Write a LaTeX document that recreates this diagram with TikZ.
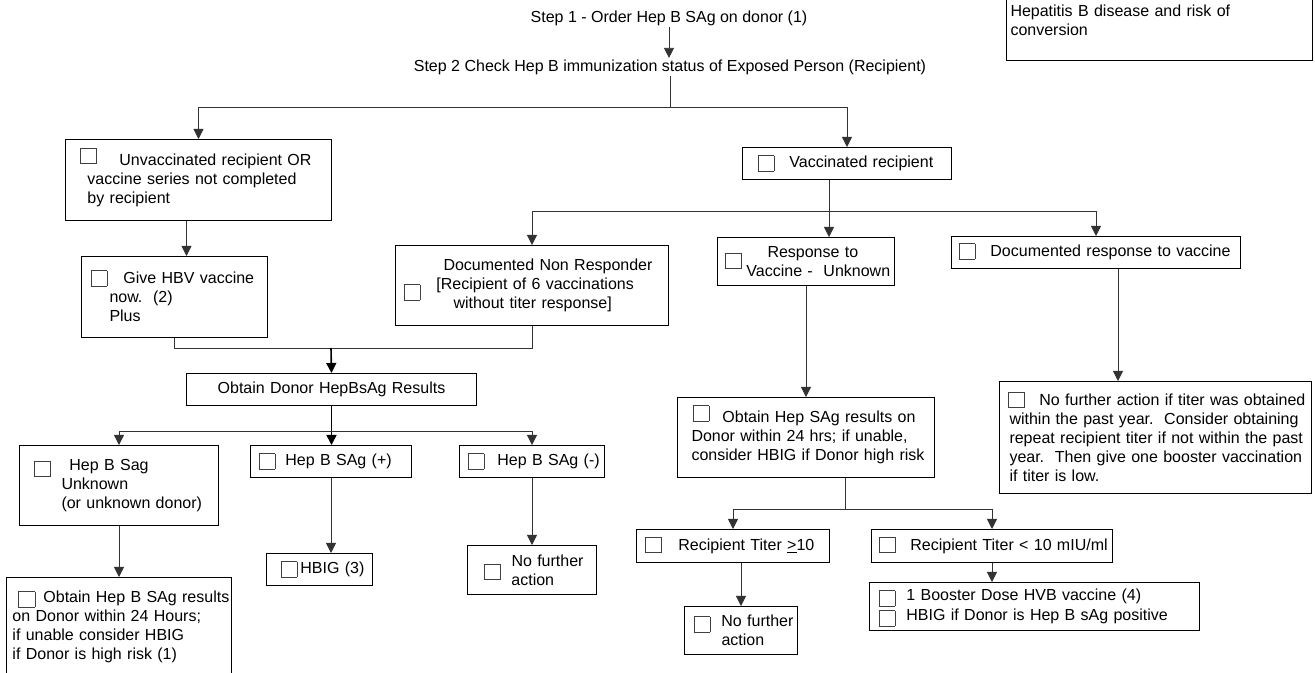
\documentclass[tikz,border=0pt]{standalone}
\usepackage{fontspec}
\setmainfont{Liberation Sans}
\usepackage{tikz}
\usetikzlibrary{arrows.meta,calc}
\newlength\pxu
\setlength\pxu{0.75pt}
\newcommand{\fs}{\fontsize{12pt}{14.25pt}\selectfont\frenchspacing}
\newcommand{\cbx}[1][-2.5pt]{\smash{\raisebox{#1}{{\color{black!75}\fboxsep=0pt\fboxrule=0.6pt\fbox{\rule{0pt}{11pt}\hspace{11.5pt}}}}}}

\begin{document}
\begin{tikzpicture}[x=0.75pt,y=-0.75pt,
		box/.style={draw,line width=0.75pt,anchor=north west,inner sep=0pt,align=left,font=\fs},
		txt/.style={inner sep=1pt,font=\fs},
		ln/.style={line width=0.6pt,draw=black!80},
		e/.style={ln,-{Triangle[length=7.5pt,width=7.5pt]}},
		bold/.style={line width=1.2pt,draw=black}
		]
		\useasboundingbox (0,0) rectangle (1315,673);
		\clip (0,0) rectangle (1315,673);
		% top steps
		\node[txt] (step1) at (669,18) {Step 1 - Order Hep B SAg on donor (1)};
		\node[txt] (step2) at (670,67) {Step 2 Check Hep B immunization status of Exposed Person (Recipient)};
		\node[box,text width=306\pxu,minimum height=80\pxu] (topnote) at (1006,-20) {\hspace*{4\pxu}Hepatitis B disease and risk of\\
			\hspace*{4\pxu}conversion};
		% unvaccinated branch
		\node[box,text width=266\pxu,minimum height=81\pxu] (unvac) at (65,139) {\hspace*{14\pxu}\cbx[1.5pt]\hspace*{23\pxu}Unvaccinated recipient OR\\
			\hspace*{22\pxu}vaccine series not completed\\
			\hspace*{22\pxu}by recipient};
		\node[box,text width=186\pxu,minimum height=81\pxu] (givehbv) at (81,256) {\hspace*{9\pxu}\cbx[-1.5pt]\hspace*{16\pxu}Give HBV vaccine\\
			\hspace*{28\pxu}now.\ \ (2)\\
			\hspace*{28\pxu}Plus};
		% vaccinated branch
		\node[box,text width=209\pxu,minimum height=32\pxu] (vacc) at (742,147) {\hspace*{15\pxu}\cbx[-2.5pt]\hspace*{15\pxu}Vaccinated recipient};
		\node[box,text width=273\pxu,minimum height=80\pxu] (nonresp) at (395,245) {\hspace*{48\pxu}Documented Non Responder\\
			\hspace*{8\pxu}\cbx[-7.5pt]\hspace*{16\pxu}[Recipient of 6 vaccinations\\
			\hspace*{58\pxu}without titer response]};
		\node[box,text width=177\pxu,minimum height=48\pxu] (resp) at (717,237) {\hspace*{50\pxu}Response to\\
			\hspace*{7\pxu}\cbx[6pt]\hspace*{5\pxu}Vaccine -\ \ Unknown};
		\node[box,text width=289\pxu,minimum height=32\pxu] (docresp) at (951,236) {\hspace*{7\pxu}\cbx[-1.5pt]\hspace*{15\pxu}Documented response to vaccine};
		% donor results
		\node[box,align=center,text width=290\pxu,minimum height=32\pxu] (obtdonor) at (186,373) {Obtain Donor HepBsAg Results};
		\node[box,text width=199\pxu,minimum height=80\pxu] (unknown) at (19,445) {\hspace*{14\pxu}\cbx[-4.5pt]\hspace*{19\pxu}Hep B Sag\\
			\hspace*{42\pxu}Unknown\\
			\hspace*{42\pxu}(or unknown donor)};
		\node[box,text width=161\pxu,minimum height=32\pxu] (plus) at (250,445) {\hspace*{8\pxu}\cbx[-2.25pt]\hspace*{10\pxu}Hep B SAg (+)};
		\node[box,text width=145\pxu,minimum height=32\pxu] (minus) at (459,445) {\hspace*{8\pxu}\cbx[-2.25pt]\hspace*{13\pxu}Hep B SAg (-)};
		\node[box,text width=225\pxu,minimum height=99\pxu] (obtres) at (6,577) {\hspace*{12\pxu}\cbx[-3pt]\hspace*{8\pxu}Obtain Hep B SAg results\\
			\hspace*{6\pxu}on Donor within 24 Hours;\\
			\hspace*{6\pxu}if unable consider HBIG\\
			\hspace*{6\pxu}if Donor is high risk (1)};
		\node[box,text width=106\pxu,minimum height=32\pxu] (hbig) at (266,553) {\hspace*{14\pxu}\cbx[-2.25pt]\hspace*{3\pxu}HBIG (3)};
		\node[box,text width=129\pxu,minimum height=49\pxu] (noact1) at (467,545) {\hspace*{44\pxu}No further\\
			\hspace*{16\pxu}\cbx[4.5pt]\hspace*{11\pxu}action};
		% unknown response
		\node[box,text width=257\pxu,minimum height=80\pxu] (obthep) at (677,397) {\hspace*{15\pxu}\cbx[1.5pt]\hspace*{13\pxu}Obtain Hep SAg results on\\
			\hspace*{14\pxu}Donor within 24 hrs; if unable,\\
			\hspace*{14\pxu}consider HBIG if Donor high risk};
		\node[box,text width=193\pxu,minimum height=33\pxu] (titerge) at (636,529) {\hspace*{8\pxu}\cbx[-1.5pt]\hspace*{17\pxu}Recipient Titer \underline{>}10};
		\node[box,text width=241\pxu,minimum height=33\pxu] (titerlt) at (871,529) {\hspace*{7\pxu}\cbx[-1.5pt]\hspace*{15\pxu}Recipient Titer < 10 mIU/ml};
		\node[box,text width=113\pxu,minimum height=48\pxu] (noact2) at (684,606) {\hspace*{9\pxu}\cbx[-3.75pt]\hspace*{11\pxu}No further\\
			\hspace*{37\pxu}action};
		\node[box,text width=330\pxu,minimum height=48\pxu] (booster) at (869,582) {\hspace*{9\pxu}\cbx[-3.75pt]\hspace*{11\pxu}1 Booster Dose HVB vaccine (4)\\[0.75pt]
			\hspace*{9\pxu}\cbx[-3.75pt]\hspace*{11\pxu}HBIG if Donor is Hep B sAg positive};
		% documented response
		\node[box,text width=312\pxu,minimum height=112\pxu] (noact3) at (999,381) {\hspace*{8\pxu}\cbx[-1.5pt]\hspace*{15\pxu}No further action if titer was obtained\\
			\hspace*{10\pxu}within the past year.\ \ Consider obtaining\\
			\hspace*{10\pxu}repeat recipient titer if not within the past\\
			\hspace*{10\pxu}year.\ \ Then give one booster vaccination\\
			\hspace*{10\pxu}if titer is low.};
		% junctions
		\coordinate (jtop) at (670,107);
		\coordinate (jvac) at (829,211);
		\coordinate (jmid) at (331,348);
		\coordinate (jdon) at (331,431);
		\coordinate (jhep) at (845,509);
		\coordinate (xr) at (1118,300);
		% connectors
		\draw[e] (step1.south) -- (step1.south |- step2.north);
		\draw[ln] (step2.south) -- (step2.south |- jtop);
		\draw[e] (jtop) -| (unvac.north); \draw[e] (jtop) -| (vacc.north);
		\draw[e] ($(unvac.south)+(-12,0)$) -- ($(givehbv.north)+(12,0)$);
		\draw[ln] (vacc.south -| jvac) -- (jvac);
		\draw[e] (jvac) -| (nonresp.north); \draw[e] (jvac) -- (resp.north -| jvac); \draw[e] (jvac) -| (docresp.north);
		\draw[ln] (givehbv.south) |- (jmid); \draw[ln] (nonresp.south) |- (jmid);
		\draw[e,bold] (jmid) -- (obtdonor.north);
		\draw[ln] (jdon -| unknown.north) -- (jdon -| minus.north);
		\draw[e,bold] (obtdonor.south) -- (plus.north -| obtdonor.south);
		\draw[e] (jdon) -| (unknown.north); \draw[e] (jdon) -| (minus.north);
		\draw[e] (unknown.south) -- (obtres.north);
		\draw[e] (plus.south -| jdon) -- (hbig.north -| jdon);
		\draw[e] (minus.south) -- (noact1.north);
		\draw[e] (resp.south) -- (obthep.north);
		\draw[ln] (obthep.south -| jhep) -- (jhep);
		\draw[e] (jhep) -| (titerge.north); \draw[e] (jhep) -| (titerlt.north);
		\draw[e] (noact2.north |- titerge.south) -- (noact2.north);
		\draw[e] (titerlt.south) -- (booster.north -| titerlt.south);
		\draw[e] (docresp.south -| xr) -- (noact3.north -| xr);
	\end{tikzpicture}
\end{document}
